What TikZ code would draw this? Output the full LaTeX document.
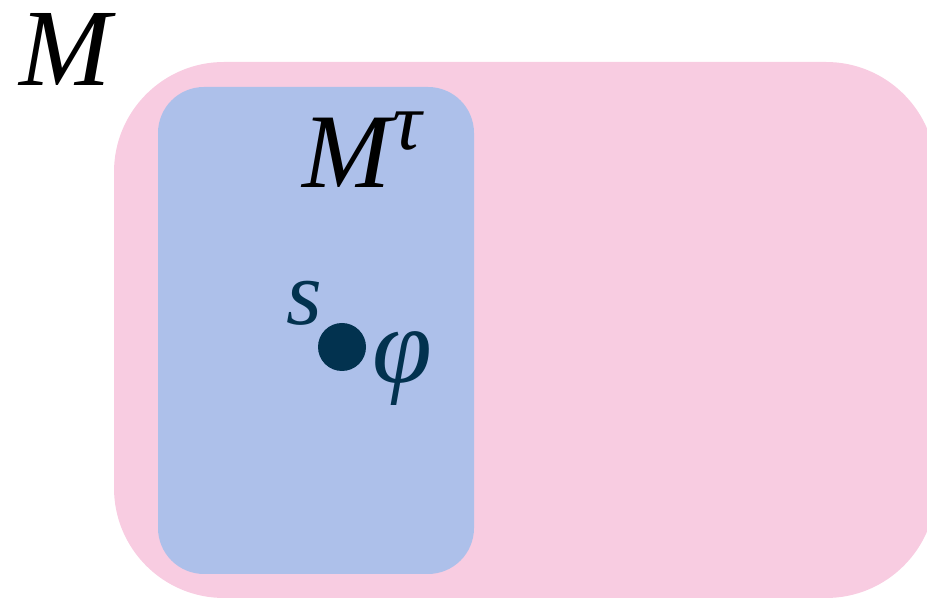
\documentclass[tikz,border=0pt]{standalone}
\usepackage{fontspec}
\setmainfont{Liberation Serif}
\usetikzlibrary{positioning}
\definecolor{setpink}{HTML}{F8CCE1}
\definecolor{subblue}{HTML}{ADC0EA}
\definecolor{navy}{HTML}{02324F}

\begin{document}
\begin{tikzpicture}[x=1pt,y=1pt,
        label/.style={inner sep=0pt, anchor=base west, font=\fontsize{110}{110}\selectfont\itshape}]
        \useasboundingbox (0,0) rectangle (927,601);

        % Outer set
        \fill[setpink, rounded corners=110pt] (114,3) rectangle (936,539);
        % Inner set
        \fill[subblue, rounded corners=46pt] (158,27) rectangle (474,514);

        % Labels
        \node[label] (Mlab) at (19,515) {M};
        \node[label, font=\fontsize{106}{106}\selectfont\itshape] (Mtau) at (302,413) {M\kern2pt\raisebox{38pt}{\fontsize{82}{82}\selectfont τ}};

        % State
        \fill[navy] (342,254) circle (24pt);
        \coordinate (state) at (342,254);
        \node[label, text=navy, font=\fontsize{92}{92}\selectfont\itshape] (slab) at (286,276) {s};
        \node[label, text=navy, font=\fontsize{108}{108}\selectfont\itshape] (philab) at (372,218) {φ};
\end{tikzpicture}
\end{document}
